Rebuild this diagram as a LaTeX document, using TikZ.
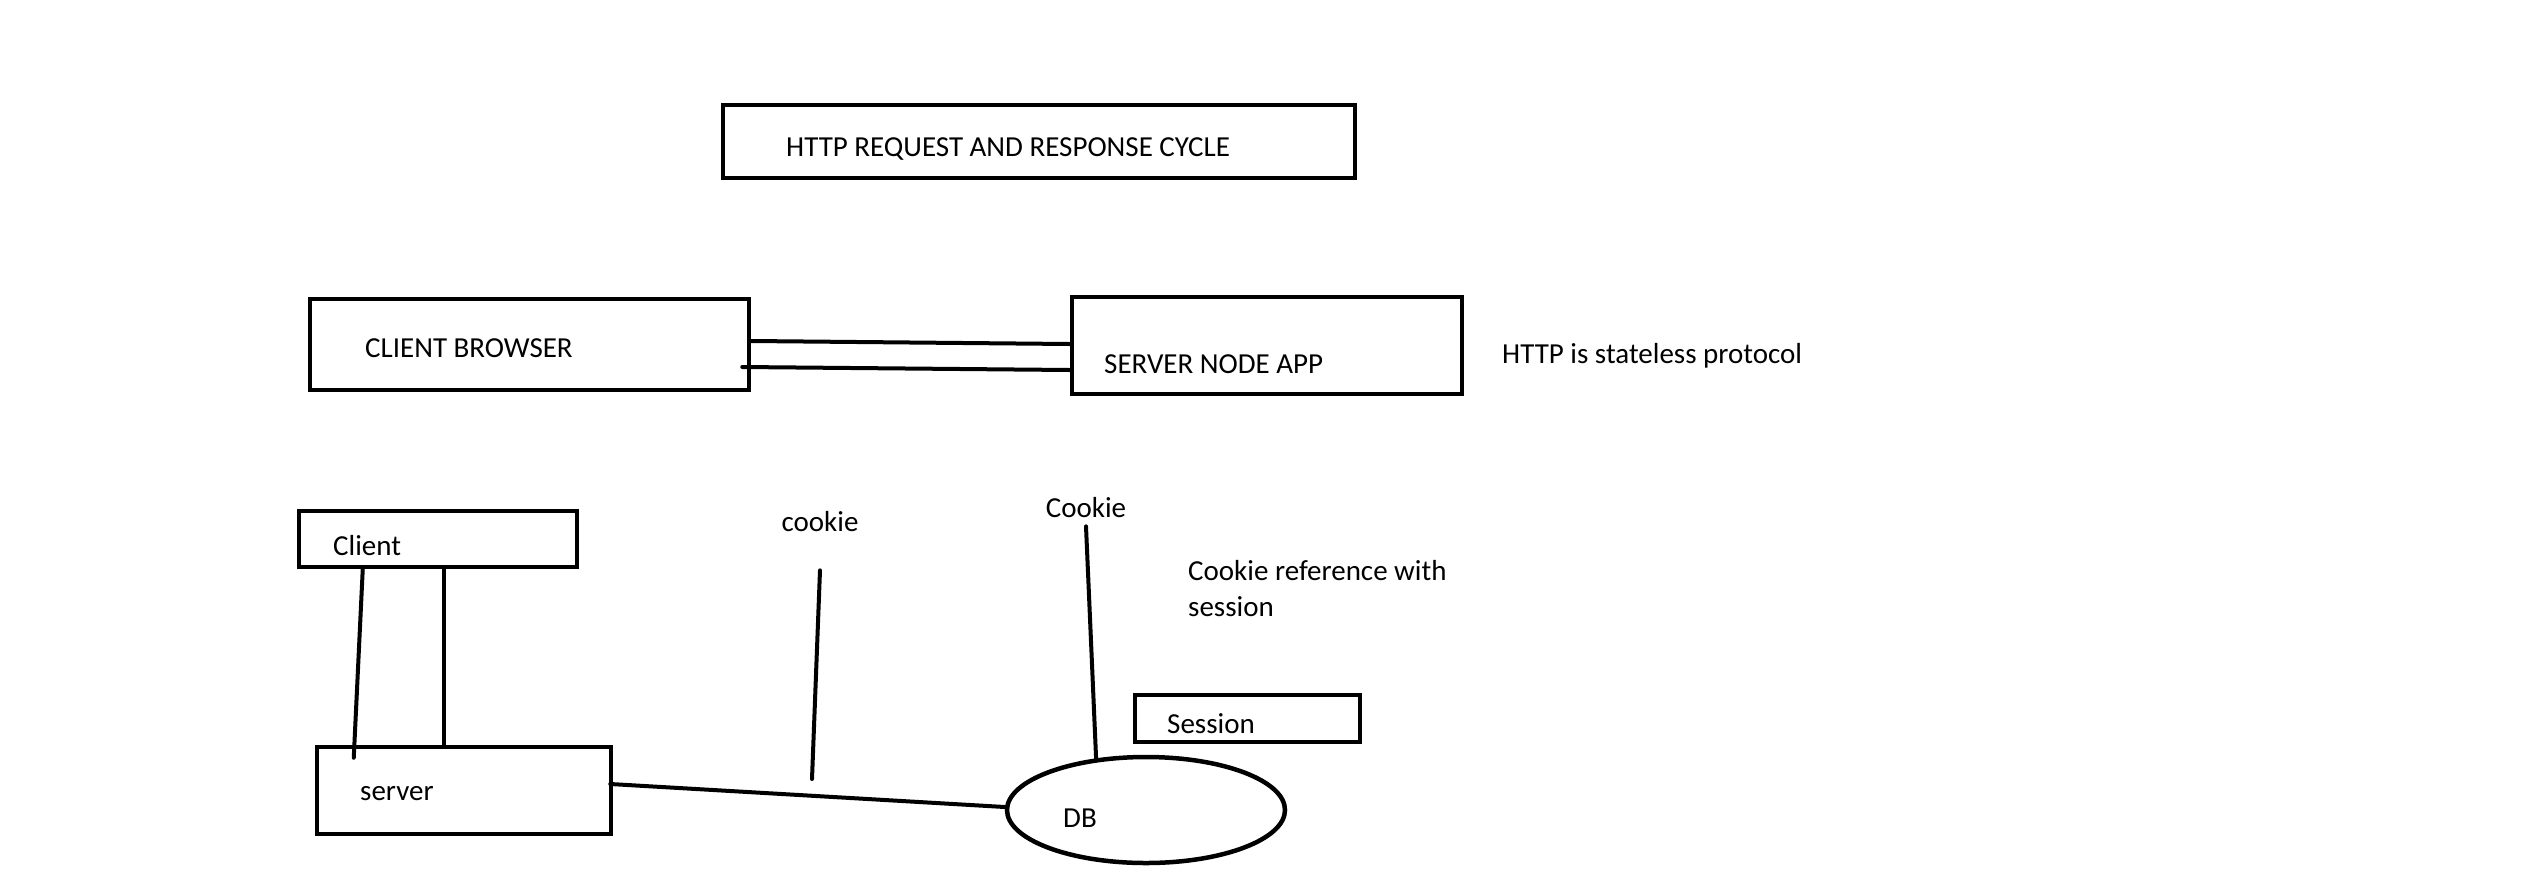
\documentclass[tikz,border=0pt]{standalone}
\usepackage{fontspec}
\setmainfont{Carlito}
\usetikzlibrary{shapes.geometric}
\begin{document}
\begin{tikzpicture}[x=1pt,y=-1pt,box/.style={draw, line width=4.5pt, inner sep=0pt},txt/.style={anchor=west, inner sep=0pt, font=\fontsize{29}{36}\selectfont},wire/.style={line width=4pt, line cap=round}]
    \useasboundingbox (0,0) rectangle (2535,895);
    \node (title) [box, minimum width=632, minimum height=73] at (1039,141.5) {};
    \node (titletxt) [txt] at (786,149) {HTTP REQUEST AND RESPONSE CYCLE};
    \node (browser) [box, minimum width=439, minimum height=91] at (529.5,344.5) {};
    \node (browsertxt) [txt] at (365,348) {CLIENT BROWSER};
    \node (app) [box, minimum width=390, minimum height=97] at (1267,345.5) {};
    \node (apptxt) [txt] at (1104,364) {SERVER NODE APP};
    \node (stateless) [txt] at (1502,356) {HTTP is stateless protocol};
    \node (client) [box, minimum width=278, minimum height=56] at (438,539) {};
    \node (clienttxt) [txt] at (333,546) {Client};
    \node (server) [box, minimum width=294, minimum height=87] at (464,790.5) {};
    \node (servertxt) [txt] at (360,794) {server};
    \node (session) [box, minimum width=225, minimum height=47] at (1247.5,718.5) {};
    \node (sessiontxt) [txt] at (1167,724) {Session};
    \node (db) [draw, ellipse, line width=4.5pt, minimum width=278, minimum height=106, inner sep=0pt] at (1146,810) {};
    \node (dbtxt) [txt] at (1063,818) {DB};
    \node (cookieA) [txt, anchor=center] at (820,522) {cookie};
    \node (cookieB) [txt, anchor=center] at (1086,508) {Cookie};
    \node (note) [txt, align=left, anchor=north west] at (1188,560) {Cookie reference with\\session};
    \coordinate (cookieAend) at (812,779);
    \draw[wire] ([yshift=3.5]browser.east) -- ([yshift=1.5]app.west);
    \draw[wire] ([xshift=-9,yshift=-22.5]browser.east) -- ([yshift=-24.5]app.west);
    \draw[wire] ([xshift=66]client.south west) -- ([xshift=39,yshift=-13]server.north west);
    \draw[wire] ([xshift=147]client.south west) -- ([xshift=129]server.north west);
    \draw[wire] ([xshift=-3,yshift=6.5]server.east) -- ([yshift=3]db.west);
    \draw[wire] ([yshift=-38]cookieA.south) -- (cookieAend);
    \draw[wire] ([yshift=-8]cookieB.south) -- (db.134);
  \end{tikzpicture}
\end{document}
